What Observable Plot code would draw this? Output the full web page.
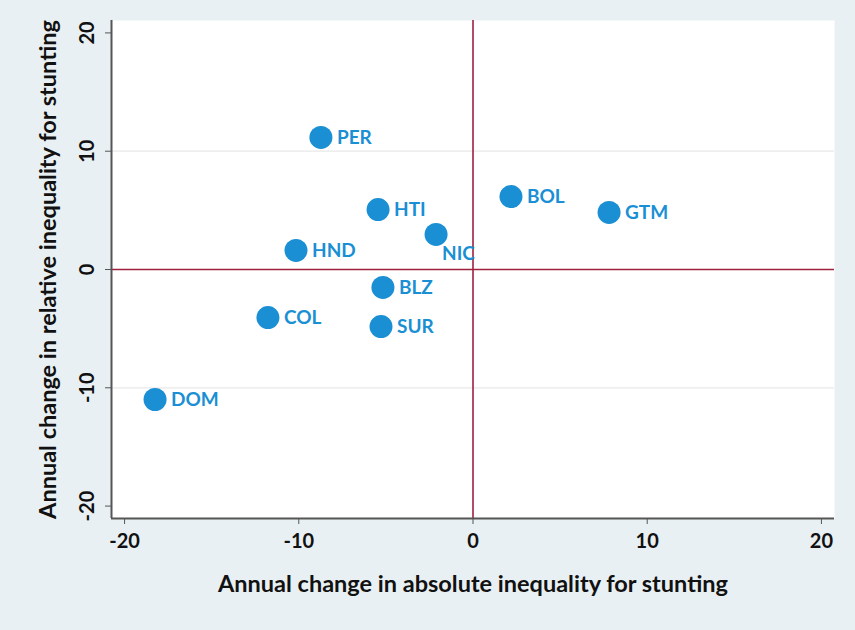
<!DOCTYPE html>
<html><head><meta charset="utf-8">
<script src="https://cdn.jsdelivr.net/npm/d3@7"></script>
<script src="https://cdn.jsdelivr.net/npm/@observablehq/plot@0.6"></script>
<style>body{margin:0;background:#e9f0f3;}</style>
</head><body><div id="chart"></div>
<script>
const countries = ["PER","HTI","BOL","GTM","NIC","HND","BLZ","COL","SUR","DOM"];
const absChange = [-8.73,-5.45,2.18,7.81,-2.12,-10.16,-5.17,-11.77,-5.28,-18.25];
const relChange = [11.16,5.07,6.17,4.82,2.96,1.61,-1.52,-4.06,-4.82,-10.99];
const xTicks = [-20,-10,0,10,20];
const yTicks = [-20,-10,0,10,20];
const gridY = [-10,10];
const xTitle = "Annual change in absolute inequality for stunting";
const yTitle = "Annual change in relative inequality for stunting";

const data = countries.map((c,i)=>({c, x:absChange[i], y:relChange[i]}));
const blue = "#1a8fd4";
const red = "#a0203f";
const fmt = d => String(d);

const chart = Plot.plot({
  width:855, height:630,
  marginLeft:111, marginRight:21, marginTop:20, marginBottom:112,
  style:{background:"#e9f0f3", fontFamily:"Lato, 'Open Sans', sans-serif", overflow:"visible"},
  x:{domain:[-20.75,20.75]},
  y:{domain:[-21.05,21.05]},
  marks:[
    Plot.frame({fill:"white", stroke:"none"}),
    Plot.ruleY(gridY, {stroke:"#e8e8e8", strokeWidth:1.2}),
    Plot.ruleX([0], {stroke:red, strokeWidth:1.6}),
    Plot.ruleY([0], {stroke:red, strokeWidth:1.6}),
    Plot.axisX({ticks:xTicks, tickFormat:fmt, tickSize:6, tickPadding:9, fontSize:20, fontWeight:"bold", label:null, stroke:"#555", color:"#111"}),
    Plot.axisY({ticks:yTicks, tickFormat:fmt, tickSize:6, tickPadding:12, tickRotate:-90, fontSize:20, fontWeight:"bold", label:null, stroke:"#555", color:"#111"}),
    Plot.ruleX([-20.75], {stroke:"#555", strokeWidth:2}),
    Plot.ruleY([-21.05], {stroke:"#555", strokeWidth:2}),
    Plot.dot(data, {x:"x", y:"y", r:11.5, fill:blue, stroke:"none"}),
    Plot.text(data.filter(d=>d.c!=="NIC"), {x:"x", y:"y", text:"c", dx:16, textAnchor:"start", fill:blue, fontSize:19, fontWeight:"bold"}),
    Plot.text(data.filter(d=>d.c==="NIC"), {x:"x", y:"y", text:"c", dx:6, dy:19, textAnchor:"start", fill:blue, fontSize:19, fontWeight:"bold"}),
    Plot.text([xTitle], {frameAnchor:"bottom", dy:73, textAnchor:"middle", fontSize:23.5, fontWeight:"bold", fill:"#111"}),
    Plot.text([yTitle], {frameAnchor:"left", dx:-63, rotate:-90, textAnchor:"middle", fontSize:23.5, fontWeight:"bold", fill:"#111"})
  ]
});
document.getElementById("chart").appendChild(chart);
</script>
</body></html>
